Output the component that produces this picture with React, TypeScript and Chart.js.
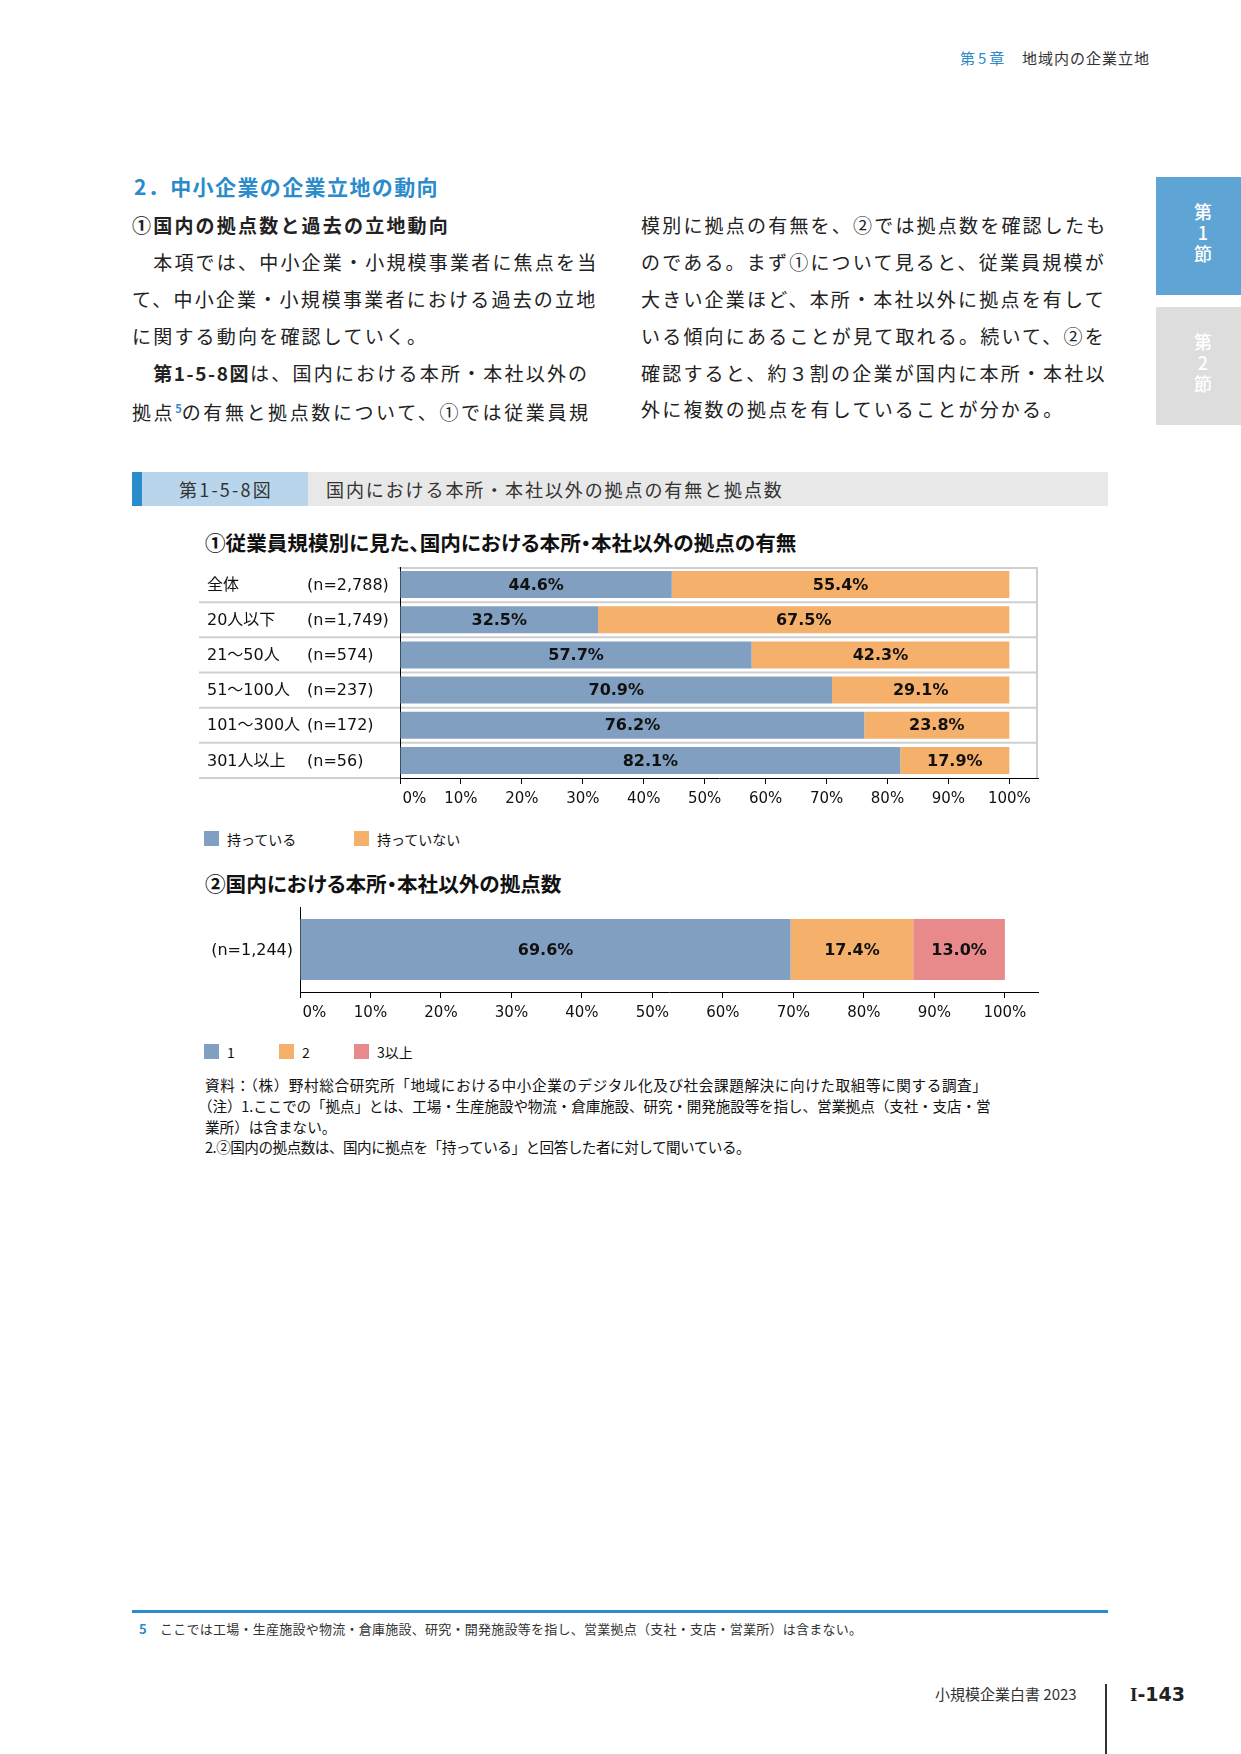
import React, { useEffect, useRef } from "react";
import { Chart, registerables } from "chart.js";

Chart.register(...registerables);

// ---------- data ----------
const sizeCategories = ["全体", "20人以下", "21～50人", "51～100人", "101～300人", "301人以上"];
const sizeCounts = ["(n=2,788)", "(n=1,749)", "(n=574)", "(n=237)", "(n=172)", "(n=56)"];
const hasBase = [44.6, 32.5, 57.7, 70.9, 76.2, 82.1];
const noBase = [55.4, 67.5, 42.3, 29.1, 23.8, 17.9];

const countCategories = ["(n=1,244)"];
const oneBase = [69.6];
const twoBase = [17.4];
const threePlusBase = [13.0];

const percentTicks = [0, 10, 20, 30, 40, 50, 60, 70, 80, 90, 100];

const legend1 = ["持っている", "持っていない"];
const legend2 = ["1", "2", "3以上"];

// ---------- styles ----------
const BLUE = "#819fc1";
const ORANGE = "#f5b06b";
const PINK = "#e8898b";
const ACCENT = "#2b8bcb";
const CJK = '"Noto Sans CJK JP", sans-serif';
const CANVAS_FONT = '"DejaVu Sans", "Noto Sans CJK JP"';

const valueLabelPlugin = {
  id: "valueLabels",
  afterDatasetsDraw(chart: any) {
    const ctx = chart.ctx;
    ctx.save();
    ctx.font = `bold 16px ${CANVAS_FONT}`;
    ctx.fillStyle = "#111";
    ctx.textAlign = "center";
    ctx.textBaseline = "middle";
    chart.data.datasets.forEach((ds: any, di: number) => {
      const meta = chart.getDatasetMeta(di);
      meta.data.forEach((bar: any, i: number) => {
        const v = ds.data[i] as number;
        const p = bar.getProps(["x", "base", "y"], true);
        ctx.fillText(v.toFixed(1) + "%", (p.x + p.base) / 2, p.y + 1);
      });
    });
    ctx.restore();
  },
};

function xScale() {
  return {
    stacked: true,
    min: 0,
    max: 104.7,
    afterBuildTicks: (s: any) => {
      s.ticks = percentTicks.map((v) => ({ value: v }));
    },
    ticks: {
      // the first label sits just right of the axis, as in the original
      callback: (v: any) => (v === 0 ? "      " + v + "%" : v + "%"),
      font: { family: "DejaVu Sans", size: 15 },
      color: "#111",
      padding: 6,
      autoSkip: false,
      maxRotation: 0,
    },
    grid: { drawOnChartArea: false, drawTicks: true, tickLength: 6, color: "#000", lineWidth: 1 },
    border: { display: true, color: "#000", width: 1 },
  };
}

const LABEL_LEFT = 9; // canvas x where row separators start (chart 1)

const frame1Plugin = {
  id: "frame1",
  beforeDatasetsDraw(chart: any) {
    const { ctx, chartArea } = chart;
    const { left, right, top, bottom } = chartArea;
    const y = chart.scales.y;
    const n = chart.data.labels.length;
    const step = n > 1 ? y.getPixelForValue(1) - y.getPixelForValue(0) : bottom - top;
    ctx.save();
    ctx.strokeStyle = "#cfcfcf";
    ctx.lineWidth = 2;
    ctx.beginPath();
    ctx.moveTo(left - 2, top + 1);
    ctx.lineTo(right - 1, top + 1);
    ctx.lineTo(right - 1, bottom);
    ctx.stroke();
    for (let i = 0; i < n; i++) {
      const yy = y.getPixelForValue(i) + step / 2;
      ctx.beginPath();
      ctx.moveTo(LABEL_LEFT, i === n - 1 ? bottom : yy);
      ctx.lineTo(i === n - 1 ? left : right - 1, i === n - 1 ? bottom : yy);
      ctx.stroke();
    }
    ctx.strokeStyle = "#000";
    ctx.lineWidth = 1;
    ctx.beginPath();
    ctx.moveTo(left + 0.5, top);
    ctx.lineTo(left + 0.5, bottom);
    ctx.stroke();
    // category labels
    ctx.font = `16px ${CANVAS_FONT}`;
    ctx.fillStyle = "#111";
    ctx.textBaseline = "middle";
    ctx.textAlign = "left";
    sizeCategories.forEach((c, i) => {
      const yy = y.getPixelForValue(i) + 1;
      ctx.fillText(c, 17, yy);
      ctx.fillText(sizeCounts[i], 117, yy);
    });
    ctx.restore();
  },
};

const frame2Plugin = {
  id: "frame2",
  beforeDatasetsDraw(chart: any) {
    const { ctx, chartArea } = chart;
    const { left, top, bottom } = chartArea;
    const y = chart.scales.y;
    ctx.save();
    ctx.strokeStyle = "#000";
    ctx.lineWidth = 1;
    ctx.beginPath();
    ctx.moveTo(left + 0.5, top);
    ctx.lineTo(left + 0.5, bottom);
    ctx.stroke();
    ctx.font = `16px ${CANVAS_FONT}`;
    ctx.fillStyle = "#111";
    ctx.textBaseline = "middle";
    ctx.textAlign = "right";
    countCategories.forEach((c, i) => {
      ctx.fillText(c, left - 7, y.getPixelForValue(i) + 1);
    });
    ctx.restore();
  },
};

function SizeChart() {
  const ref = useRef<HTMLCanvasElement>(null);
  useEffect(() => {
    const chart = new Chart(ref.current!, {
      type: "bar",
      data: {
        labels: sizeCategories,
        datasets: [
          { label: legend1[0], data: hasBase, backgroundColor: BLUE, borderWidth: 0 },
          { label: legend1[1], data: noBase, backgroundColor: ORANGE, borderWidth: 0 },
        ],
      },
      options: {
        indexAxis: "y",
        responsive: false,
        animation: false,
        events: [],
        datasets: { bar: { categoryPercentage: 1, barPercentage: 0.77 } },
        layout: { padding: { left: 210, right: 22, top: 12, bottom: 8 } },
        plugins: { legend: { display: false }, tooltip: { enabled: false } },
        scales: {
          x: xScale() as any,
          y: { stacked: true, display: false, offset: true },
        },
      },
      plugins: [frame1Plugin, valueLabelPlugin],
    });
    return () => chart.destroy();
  }, []);
  return (
    <canvas
      ref={ref}
      width={870}
      height={267}
      style={{ position: "absolute", left: 190, top: 555, width: 870, height: 267 }}
    />
  );
}

function CountChart() {
  const ref = useRef<HTMLCanvasElement>(null);
  useEffect(() => {
    const chart = new Chart(ref.current!, {
      type: "bar",
      data: {
        labels: countCategories,
        datasets: [
          { label: legend2[0], data: oneBase, backgroundColor: BLUE, borderWidth: 0 },
          { label: legend2[1], data: twoBase, backgroundColor: ORANGE, borderWidth: 0 },
          { label: legend2[2], data: threePlusBase, backgroundColor: PINK, borderWidth: 0 },
        ],
      },
      options: {
        indexAxis: "y",
        responsive: false,
        animation: false,
        events: [],
        datasets: { bar: { categoryPercentage: 1, barPercentage: 0.72 } },
        layout: { padding: { left: 110, right: 22, top: 12, bottom: 8 } },
        plugins: { legend: { display: false }, tooltip: { enabled: false } },
        scales: {
          x: xScale() as any,
          y: { stacked: true, display: false, offset: true },
        },
      },
      plugins: [frame2Plugin, valueLabelPlugin],
    });
    return () => chart.destroy();
  }, []);
  return (
    <canvas
      ref={ref}
      width={870}
      height={141}
      style={{ position: "absolute", left: 190, top: 895, width: 870, height: 141 }}
    />
  );
}

// ---------- page helpers ----------
function T(props: {
  x: number;
  cy: number;
  size: number;
  children: React.ReactNode;
  style?: React.CSSProperties;
}) {
  const lh = Math.round(props.size * 1.4);
  return (
    <div
      style={{
        position: "absolute",
        left: props.x,
        top: props.cy - lh / 2,
        fontSize: props.size,
        lineHeight: lh + "px",
        whiteSpace: "nowrap",
        fontFamily: CJK,
        color: "#231815",
        ...props.style,
      }}
    >
      {props.children}
    </div>
  );
}

function Box(props: { x: number; y: number; w: number; h: number; c: string }) {
  return (
    <div
      style={{
        position: "absolute",
        left: props.x,
        top: props.y,
        width: props.w,
        height: props.h,
        background: props.c,
      }}
    />
  );
}

function Tab(props: { y: number; color: string; label: string }) {
  return (
    <div
      style={{
        position: "absolute",
        left: 1156,
        top: props.y,
        width: 85,
        height: 118,
        background: props.color,
      }}
    >
      <div
        style={{
          position: "absolute",
          left: 38,
          top: 26,
          writingMode: "vertical-rl",
          textOrientation: "upright",
          fontSize: 18,
          lineHeight: "18px",
          letterSpacing: "3px",
          color: "#fff",
          fontWeight: 500,
          fontFamily: CJK,
          whiteSpace: "nowrap",
        }}
      >
        {props.label}
      </div>
    </div>
  );
}

const bodyStyle: React.CSSProperties = { letterSpacing: "2.2px", color: "#222" };
const leftLines: React.ReactNode[] = [
  <span style={{ fontWeight: 700 }}>①国内の拠点数と過去の立地動向</span>,
  "　本項では、中小企業・小規模事業者に焦点を当",
  "て、中小企業・小規模事業者における過去の立地",
  "に関する動向を確認していく。",
  <>
    {"　"}
    <span style={{ fontWeight: 700, letterSpacing: "1.6px" }}>第1-5-8図</span>
    {"は、国内における本所・本社以外の"}
  </>,
  <span style={{ letterSpacing: "2.6px" }}>
    {"拠点"}
    <sup style={{ color: ACCENT, fontSize: 11, fontWeight: 700, letterSpacing: 0, verticalAlign: "7px" }}>5</sup>
    {"の有無と拠点数について、①では従業員規"}
  </span>,
];
const rightLines = [
  "模別に拠点の有無を、②では拠点数を確認したも",
  "のである。まず①について見ると、従業員規模が",
  "大きい企業ほど、本所・本社以外に拠点を有して",
  "いる傾向にあることが見て取れる。続いて、②を",
  "確認すると、約３割の企業が国内に本所・本社以",
  "外に複数の拠点を有していることが分かる。",
];
const lineYs = [224, 261, 298, 335, 372, 408];

const notes = [
  "資料：（株）野村総合研究所「地域における中小企業のデジタル化及び社会課題解決に向けた取組等に関する調査」",
  "（注）1.ここでの「拠点」とは、工場・生産施設や物流・倉庫施設、研究・開発施設等を指し、営業拠点（支社・支店・営",
  "業所）は含まない。",
  "2.②国内の拠点数は、国内に拠点を「持っている」と回答した者に対して聞いている。",
];
const noteYs = [1085, 1106, 1127, 1147];
const noteSpacing = ["0.6px", "-0.14px", "0px", "-0.5px"];

function LegendItem(props: { x: number; cy: number; color: string; label: string }) {
  return (
    <>
      <Box x={props.x} y={props.cy - 8} w={15} h={15} c={props.color} />
      <T x={props.x + 23} cy={props.cy} size={14} style={{ color: "#111" }}>
        {props.label}
      </T>
    </>
  );
}

export default function App() {
  return (
    <div
      style={{
        position: "absolute",
        left: 0,
        top: 0,
        width: 1241,
        height: 1754,
        background: "#fff",
        overflow: "hidden",
        fontFamily: CJK,
      }}
    >
      {/* running header */}
      <T x={960} cy={57} size={15} style={{ color: ACCENT, letterSpacing: "3px" }}>
        第5章
      </T>
      <T x={1022} cy={57} size={15} style={{ color: "#333", letterSpacing: "1px" }}>
        地域内の企業立地
      </T>

      {/* side tabs */}
      <Tab y={177} color="#5ea4d4" label="第1節" />
      <Tab y={307} color="#dddddd" label="第2節" />

      {/* section heading */}
      <T x={134} cy={186} size={21} style={{ color: ACCENT, fontWeight: 700, letterSpacing: "1.4px" }}>
        2．中小企業の企業立地の動向
      </T>

      {/* body text */}
      {leftLines.map((l, i) => (
        <T key={"l" + i} x={132} cy={lineYs[i]} size={19} style={bodyStyle}>
          {l}
        </T>
      ))}
      {rightLines.map((l, i) => (
        <T key={"r" + i} x={641} cy={lineYs[i]} size={19} style={bodyStyle}>
          {l}
        </T>
      ))}

      {/* figure header */}
      <Box x={132} y={472} w={10} h={34} c={ACCENT} />
      <Box x={142} y={472} w={166} h={34} c="#b9d5ec" />
      <Box x={308} y={472} w={800} h={34} c="#e8e8e8" />
      <T x={179} cy={489} size={18} style={{ color: "#333", letterSpacing: "2.2px" }}>
        第1-5-8図
      </T>
      <T x={326} cy={489} size={18} style={{ color: "#333", letterSpacing: "1.9px" }}>
        国内における本所・本社以外の拠点の有無と拠点数
      </T>

      {/* chart 1 */}
      <T x={205} cy={542} size={20.6} style={{ fontWeight: 700, color: "#111", fontFeatureSettings: '"palt"' }}>
        ①従業員規模別に見た、国内における本所・本社以外の拠点の有無
      </T>
      <SizeChart />
      <LegendItem x={204} cy={839} color={BLUE} label={legend1[0]} />
      <LegendItem x={354} cy={839} color={ORANGE} label={legend1[1]} />

      {/* chart 2 */}
      <T x={205} cy={883} size={20.6} style={{ fontWeight: 700, color: "#111", fontFeatureSettings: '"palt"' }}>
        ②国内における本所・本社以外の拠点数
      </T>
      <CountChart />
      <LegendItem x={204} cy={1052} color={BLUE} label={legend2[0]} />
      <LegendItem x={279} cy={1052} color={ORANGE} label={legend2[1]} />
      <LegendItem x={354} cy={1052} color={PINK} label={legend2[2]} />

      {/* notes */}
      {notes.map((n, i) => (
        <T
          key={"n" + i}
          x={i === 1 ? 198 : 205}
          cy={noteYs[i]}
          size={14.6}
          style={{ color: "#111", letterSpacing: noteSpacing[i] }}
        >
          {n}
        </T>
      ))}

      {/* footnote */}
      <Box x={132} y={1610} w={976} h={3} c={ACCENT} />
      <T x={139} cy={1629} size={13} style={{ color: ACCENT, fontWeight: 700 }}>
        5
      </T>
      <T x={160} cy={1629} size={13} style={{ color: "#333", letterSpacing: "0.25px" }}>
        ここでは工場・生産施設や物流・倉庫施設、研究・開発施設等を指し、営業拠点（支社・支店・営業所）は含まない。
      </T>

      {/* footer */}
      <T x={935} cy={1693} size={15} style={{ color: "#333" }}>
        小規模企業白書 2023
      </T>
      <Box x={1105} y={1684} w={2} h={70} c="#333" />
      <T x={1130} cy={1692} size={19} style={{ color: "#222", fontWeight: 700 }}>
        <span style={{ fontFamily: '"Liberation Serif", serif' }}>I</span>
        <span style={{ fontFamily: '"DejaVu Sans", sans-serif' }}>-143</span>
      </T>
    </div>
  );
}
